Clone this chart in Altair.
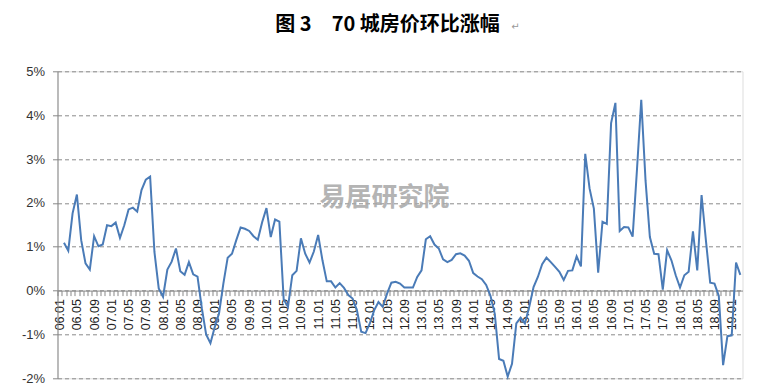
import altair as alt
import pandas as pd

# category labels: monthly periods 06.01 .. 19.03
years = [f"{y:02d}" for y in range(6, 20)]
months = [f"{m:02d}" for m in range(1, 13)]
periods = [f"{y}.{m}" for y in years for m in months][:159]

# month-on-month change (%) of 70-city house prices, from 06.02 to 19.03
mom = [
    1.09, 0.91, 1.76, 2.19, 1.15, 0.62, 0.48, 1.24, 1.01, 1.05, 1.49,
    1.47, 1.55, 1.20, 1.49, 1.85, 1.89, 1.80, 2.29, 2.53, 2.60, 0.88, 0.05,
    -0.14, 0.48, 0.66, 0.96, 0.44, 0.36, 0.65, 0.37, 0.32, -0.40, -1.00, -1.20,
    -0.83, -0.52, 0.16, 0.75, 0.84, 1.15, 1.44, 1.41, 1.36, 1.24, 1.16, 1.56,
    1.88, 1.22, 1.62, 1.57, -0.20, -0.37, 0.35, 0.45, 1.19, 0.84, 0.64, 0.89,
    1.27, 0.69, 0.21, 0.21, 0.07, 0.17, 0.06, -0.10, -0.18, -0.45, -0.94, -0.97,
    -0.75, -0.45, -0.26, -0.37, -0.07, 0.18, 0.20, 0.16, 0.07, 0.07, 0.07, 0.31,
    0.46, 1.17, 1.24, 1.05, 0.96, 0.71, 0.65, 0.70, 0.83, 0.85, 0.80, 0.68,
    0.40, 0.32, 0.26, 0.13, -0.12, -0.53, -1.56, -1.60, -1.96, -1.67, -0.75, -0.62,
    -0.75, -0.37, 0.08, 0.31, 0.60, 0.75, 0.65, 0.54, 0.43, 0.24, 0.45, 0.46,
    0.78, 0.55, 3.12, 2.33, 1.87, 0.41, 1.57, 1.52, 3.82, 4.28, 1.36, 1.45,
    1.44, 1.23, 2.75, 4.35, 2.50, 1.22, 0.84, 0.83, 0.02, 0.92, 0.69, 0.35,
    0.07, 0.35, 0.43, 1.35, 0.46, 2.18, 1.15, 0.18, 0.16, -0.12, -1.70, -1.04,
    -1.02, 0.64, 0.36,
]

y_ticks = [-2, -1, 0, 1, 2, 3, 4, 5]
title_text = "图 3　70 城房价环比涨幅"
return_mark = "↵"
watermark = "易居研究院"

W, H = 685, 307
y_min, y_max = -2, 5
x_axis_offset = -H * (0 - y_min) / (y_max - y_min)
half_band = W / len(periods) / 2

df = pd.DataFrame({"period": periods[1:1 + len(mom)], "mom": mom})

line = alt.Chart(df).mark_line(color="#4A7BB7", strokeWidth=2).encode(
    x=alt.X(
        "period:O",
        sort=periods,
        scale=alt.Scale(type="band", domain=periods, paddingInner=0, paddingOuter=0),
        axis=alt.Axis(
            title=None,
            offset=x_axis_offset,
            labelAngle=270,
            labelExpr="indexof(['01','05','09'], slice(datum.value, 3)) >= 0 ? datum.value : ''",
            labelOverlap=False,
            labelFont="Liberation Sans",
            labelFontSize=12.5,
            labelColor="#222",
            labelPadding=3,
            tickOffset=-half_band,
            labelOffset=half_band,
            tickSize=5,
            tickColor="#888",
            domainColor="#888",
            grid=False,
        ),
    ),
    y=alt.Y(
        "mom:Q",
        scale=alt.Scale(domain=[y_min, y_max], nice=False, zero=False),
        axis=alt.Axis(
            title=None,
            values=y_ticks,
            labelExpr="datum.value + '%'",
            labelFont="Liberation Sans",
            labelFontSize=13,
            labelColor="#333",
            labelPadding=8,
            tickSize=5,
            tickColor="#888",
            domainColor="#888",
            grid=True,
            gridColor="#8a8a8a",
            gridDash=[4, 3],
            gridWidth=1,
        ),
    ),
)

wm = alt.Chart(pd.DataFrame({"t": [watermark]})).mark_text(
    font="Noto Sans CJK SC", fontSize=26, fontWeight="bold", color="#a8a8a8",
    align="center", baseline="middle", opacity=0.85,
).encode(x=alt.value(327), y=alt.value(127), text="t:N")

title = alt.Chart(pd.DataFrame({"t": [title_text]})).mark_text(
    font="Noto Sans CJK SC", fontSize=20, fontWeight="bold", color="#000",
    align="center", baseline="middle",
).encode(x=alt.value(330), y=alt.value(-46), text="t:N")

ret = alt.Chart(pd.DataFrame({"t": [return_mark]})).mark_text(
    font="DejaVu Sans", fontSize=10, color="#999", align="center", baseline="middle",
).encode(x=alt.value(458), y=alt.value(-44), text="t:N")

chart = alt.layer(line, wm, title, ret).properties(
    width=W,
    height=H,
    padding={"left": 49.5, "top": 63.3, "right": 10, "bottom": 10},
    autosize=alt.AutoSizeParams(type="none"),
).configure_view(stroke=None).configure(background="white")

chart.save("out.html", embed_options={"renderer": "svg", "actions": False})
